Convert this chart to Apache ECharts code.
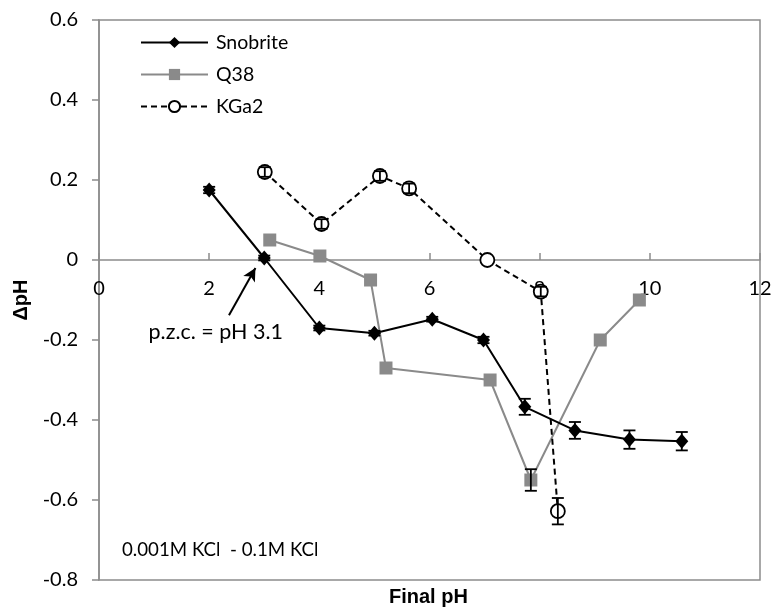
<!DOCTYPE html>
<html>
<head>
<meta charset="utf-8">
<script src="https://cdn.jsdelivr.net/npm/echarts@6/dist/echarts.min.js"></script>
<style>
  html, body { margin: 0; padding: 0; background: #fff; }
  #chart { width: 775px; height: 610px; }
</style>
</head>
<body>
<div id="chart"></div>
<script>
// Point-of-zero-charge titration: change in pH versus final pH
const xTicks = [0, 2, 4, 6, 8, 10, 12];
const yTicks = [-0.8, -0.6, -0.4, -0.2, 0, 0.2, 0.4, 0.6];

const snobriteX   = [2.0, 3.0, 4.0, 5.0, 6.05, 6.98, 7.73, 8.64, 9.63, 10.58];
const snobriteY   = [0.175, 0.005, -0.17, -0.183, -0.148, -0.2, -0.367, -0.426, -0.449, -0.453];
const snobriteErr = [0.008, 0.006, 0.006, 0.006, 0.006, 0.008, 0.02, 0.021, 0.023, 0.023];

const q38X   = [3.1, 4.01, 4.93, 5.21, 7.1, 7.84, 9.1, 9.81];
const q38Y   = [0.05, 0.01, -0.05, -0.27, -0.3, -0.55, -0.2, -0.1];
const q38Err = [0, 0, 0, 0, 0, 0.027, 0, 0];

const kga2X   = [3.01, 4.04, 5.1, 5.63, 7.05, 8.02, 8.33];
const kga2Y   = [0.22, 0.09, 0.21, 0.179, 0.0, -0.079, -0.628];
const kga2Err = [0.012, 0.012, 0.012, 0.012, 0, 0.012, 0.033];

const pzcLabel = 'p.z.c. = pH 3.1';
const arrowFrom = [2.36, -0.138];
const arrowTo = [2.84, -0.02];
const noteText = '0.001M KCl  - 0.1M KCl';

const zip = (xs, ys) => xs.map((x, i) => [x, ys[i]]);
const zip3 = (xs, ys, es) => xs.map((x, i) => [x, ys[i], es[i]]);

const chart = echarts.init(document.getElementById('chart'));

// vertical error bars with caps, drawn through the value axes
function errorBars(name, data, color) {
  return {
    name: name + ' err',
    type: 'custom',
    z: 6,
    silent: true,
    data: data.filter(d => d[2] > 0),
    renderItem: function (params, api) {
      const x = api.value(0), y = api.value(1), e = api.value(2);
      const top = api.coord([x, y + e]);
      const bot = api.coord([x, y - e]);
      const cap = 6;
      const style = { stroke: color, lineWidth: 1.8 };
      return {
        type: 'group',
        children: [
          { type: 'line', shape: { x1: top[0], y1: top[1], x2: bot[0], y2: bot[1] }, style: style },
          { type: 'line', shape: { x1: top[0] - cap, y1: top[1], x2: top[0] + cap, y2: top[1] }, style: style },
          { type: 'line', shape: { x1: bot[0] - cap, y1: bot[1], x2: bot[0] + cap, y2: bot[1] }, style: style }
        ]
      };
    }
  };
}

const labelFont = 'Lato, "Open Sans", sans-serif';
const boldFont = '"Liberation Sans", Arial, sans-serif';
const axisGray = '#8c8c8c';

// plot height 560 px over 1.4 units: zero sits 320 px above the bottom edge
const zeroOffset = -(560 * 0.8 / 1.4);

chart.setOption({
  animation: false,
  backgroundColor: '#fff',
  grid: {
    left: 99, right: 15, top: 20, bottom: 30,
    show: true, borderColor: axisGray, borderWidth: 1.5, backgroundColor: 'transparent'
  },
  legend: {
    left: 135, top: 27, orient: 'vertical',
    itemWidth: 67, itemHeight: 14, itemGap: 11,
    data: ['Snobrite', 'Q38', 'KGa2'],
    textStyle: { fontFamily: labelFont, fontSize: 19.5, lineHeight: 21, color: '#000', padding: [0, 0, 0, 3] }
  },
  xAxis: {
    type: 'value', min: 0, max: 12, interval: 2,
    position: 'bottom', offset: zeroOffset,
    axisLine: { onZero: false, lineStyle: { color: axisGray, width: 1.5 } },
    axisTick: { show: true, inside: true, length: 7, lineStyle: { color: axisGray, width: 1.5 } },
    axisLabel: { fontFamily: labelFont, fontSize: 20, color: '#000', margin: 19,
      formatter: v => xTicks.includes(v) ? String(v) : '' },
    splitLine: { show: false }
  },
  yAxis: {
    type: 'value', min: -0.8, max: 0.6, interval: 0.2,
    name: 'ΔpH', nameLocation: 'middle', nameGap: 68, nameRotate: 90,
    nameTextStyle: { fontFamily: boldFont, fontWeight: 'bold', fontSize: 20, color: '#000' },
    axisLine: { show: true, onZero: false, lineStyle: { color: axisGray, width: 1.5 } },
    axisTick: { show: true, length: 7, lineStyle: { color: axisGray, width: 1.5 } },
    axisLabel: { fontFamily: labelFont, fontSize: 20, color: '#000', margin: 21,
      formatter: v => {
        const r = Math.round(v * 10) / 10;
        return yTicks.some(t => Math.abs(t - r) < 1e-9) ? (r === 0 ? '0' : String(r)) : '';
      } },
    splitLine: { show: false }
  },
  graphic: [
    { type: 'text', left: 389, top: 587,
      style: { text: 'Final pH', fontFamily: boldFont, fontWeight: 'bold', fontSize: 20, fill: '#000' } },
    { type: 'text', left: 122, top: 540,
      style: { text: noteText, fontFamily: labelFont, fontSize: 18.7, fill: '#000' } }
  ],
  series: [
    errorBars('Snobrite', zip3(snobriteX, snobriteY, snobriteErr), '#000'),
    errorBars('Q38', zip3(q38X, q38Y, q38Err), '#000'),
    errorBars('KGa2', zip3(kga2X, kga2Y, kga2Err), '#000'),
    {
      name: 'Q38', type: 'line', z: 3,
      data: zip(q38X, q38Y),
      symbol: 'rect', symbolSize: 13,
      lineStyle: { color: '#8a8a8a', width: 2 },
      itemStyle: { color: '#8a8a8a' }
    },
    {
      name: 'KGa2', type: 'line', z: 3,
      data: zip(kga2X, kga2Y),
      symbol: 'circle', symbolSize: 14,
      lineStyle: { color: '#000', width: 2, type: [6, 4] },
      itemStyle: { color: '#fff', borderColor: '#000', borderWidth: 1.8 }
    },
    {
      name: 'Snobrite', type: 'line', z: 5,
      data: zip(snobriteX, snobriteY),
      symbol: 'diamond', symbolSize: [13, 15],
      lineStyle: { color: '#000', width: 2 },
      itemStyle: { color: '#000' },
      markLine: {
        silent: true,
        symbol: ['none', 'arrow'], symbolSize: [10, 13],
        lineStyle: { color: '#000', width: 2, type: 'solid' },
        label: { show: false },
        data: [[{ coord: arrowFrom }, { coord: arrowTo }]]
      },
      markPoint: {
        silent: true,
        symbol: 'rect', symbolSize: 1,
        itemStyle: { color: 'transparent' },
        label: { show: true, formatter: pzcLabel, fontFamily: labelFont, fontSize: 21.5, color: '#000', position: 'inside' },
        data: [{ coord: [2.12, -0.18] }]
      }
    }
  ]
});
</script>
</body>
</html>
